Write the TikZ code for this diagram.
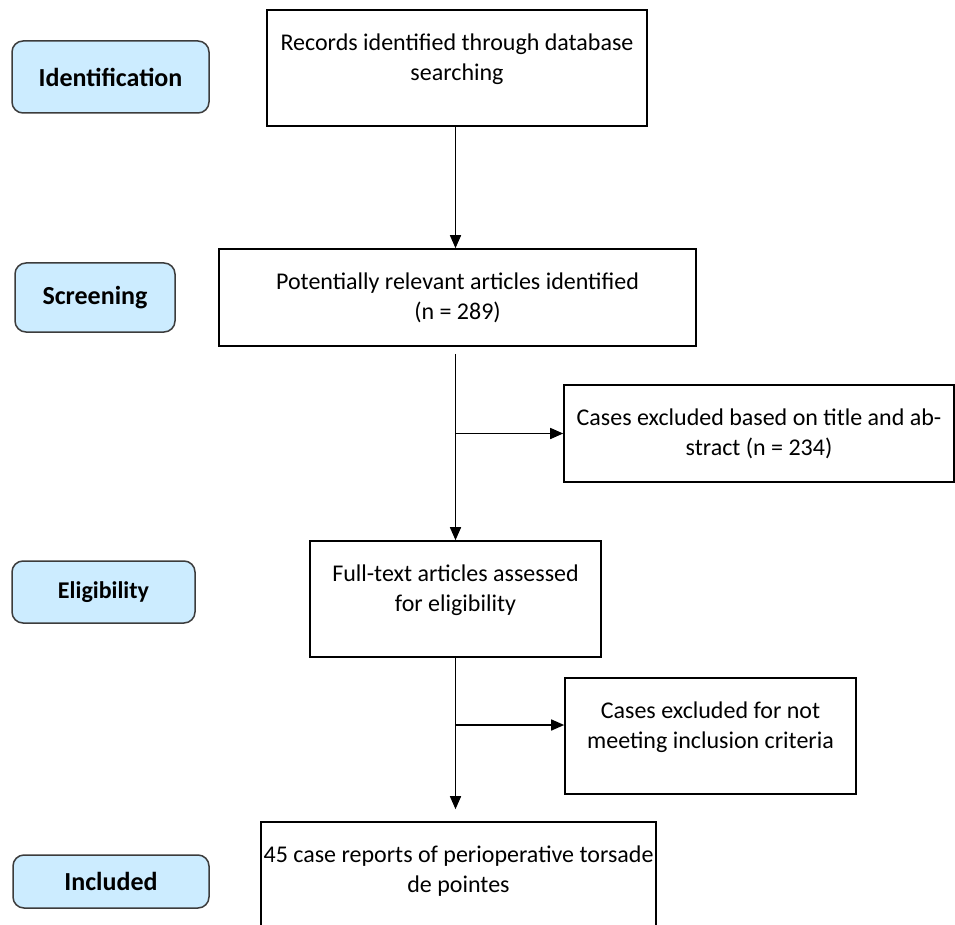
\documentclass[tikz,border=0pt]{standalone}
\usepackage{fontspec}
\setmainfont{Carlito}
\usetikzlibrary{arrows.meta}

\definecolor{stagefill}{RGB}{204,236,255}
\definecolor{stageline}{RGB}{60,60,60}

\tikzset{
  stage/.style={draw=stageline, fill=stagefill, line width=1.5pt, rounded corners=11pt,
    font=\bfseries\fontsize{26}{30}\selectfont, inner sep=0pt},
  flowbox/.style={draw, line width=1.6pt, inner sep=0pt},
  boxtext/.style={anchor=north, yshift=-24pt, inner sep=0pt, align=center,
    font=\fontsize{24}{30}\selectfont},
  flow/.style={line width=1.5pt, -{Triangle[length=13pt,width=11pt]}}
}

\begin{document}
\begin{tikzpicture}[x=1pt,y=1pt]
  \useasboundingbox (0,0) rectangle (955,-925);

  % stages on the left
  \node[stage, minimum width=197, minimum height=72] (ident)  at (110.5,-77)   {Identification};
  \node[stage, minimum width=160, minimum height=69] (screen) at (95,-297.5)   {Screening};
  \node[stage, minimum width=183, minimum height=62,
        font=\bfseries\fontsize{24}{28}\selectfont] (elig) at (103.5,-592) {Eligibility};
  \node[stage, minimum width=196, minimum height=53] (incl)   at (111,-881.5)   {Included};

  % flow boxes
  \node[flowbox, minimum width=380, minimum height=116,
        label={[boxtext]north:Records identified through database\\searching}] (rec) at (457,-68) {};
  \node[flowbox, minimum width=477, minimum height=97,
        label={[boxtext]north:Potentially relevant articles identified\\(n = 289)}] (pot) at (457.5,-297.5) {};
  \node[flowbox, minimum width=390, minimum height=97,
        label={[boxtext]north:Cases excluded based on title and ab-\\stract (n = 234)}] (excl1) at (759,-433.5) {};
  \node[flowbox, minimum width=291, minimum height=116,
        label={[boxtext]north:Full-text articles assessed\\for eligibility}] (full) at (455.5,-599) {};
  \node[flowbox, minimum width=291, minimum height=116,
        label={[boxtext]north:Cases excluded for not\\meeting inclusion criteria}] (excl2) at (710.5,-736) {};
  \node[flowbox, minimum width=395, minimum height=118,
        label={[boxtext]north:45 case reports of perioperative torsade\\de pointes}] (cases) at (458.5,-881) {};

  % connectors
  \draw[flow] (rec.south -| full.north) -- (pot.north -| full.north);
  \draw[flow] ([yshift=-7pt]pot.south -| full.north) -- (full.north);
  \draw[flow] (excl1.west -| full.north) -- (excl1.west);
  \draw[flow] (full.south) -- ([yshift=12pt]cases.north -| full.south);
  \draw[flow] ([yshift=11pt]excl2.west -| full.south) -- ([yshift=11pt]excl2.west);
\end{tikzpicture}
\end{document}
